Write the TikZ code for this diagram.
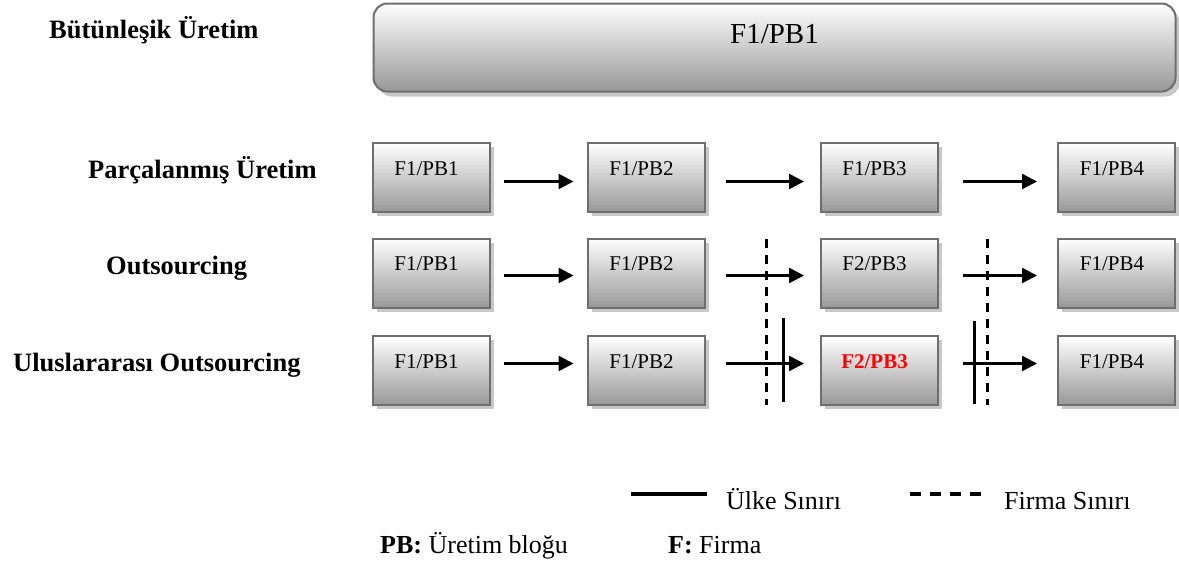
\documentclass[tikz,border=0pt]{standalone}
\usepackage{fontspec}
\setmainfont{Liberation Serif}
\usetikzlibrary{arrows.meta,shadows}
\definecolor{boxgray}{RGB}{152,152,152}
\definecolor{edgegray}{RGB}{110,110,110}
\definecolor{shadgray}{RGB}{200,200,200}
\newcommand\lblfnt{\fontsize{26.5}{30}\selectfont\bfseries}
\newcommand\boxfnt{\fontsize{21}{24}\selectfont}
\newcommand\topfnt{\fontsize{29}{32}\selectfont}
\newcommand\legfnt{\fontsize{26}{30}\selectfont}
\tikzset{
  blockbox/.style={draw=edgegray, line width=2pt, top color=white, bottom color=boxgray,
    minimum width=117pt, minimum height=69pt, inner sep=0pt,
    drop shadow={shadow xshift=4pt, shadow yshift=-4pt, fill=shadgray, opacity=1},
    label={[font=\boxfnt, anchor=base, xshift=-4.5pt, yshift=-33pt, inner sep=0pt]north:#1}},
  redbox/.style={blockbox={\textcolor{red}{\bfseries #1}}},
  rowlbl/.style={font=\lblfnt, anchor=base west, inner sep=0pt},
  legtxt/.style={font=\legfnt, anchor=base west, inner sep=0pt},
  flowarrow/.style={line width=2.5pt, -{Triangle[length=15pt,width=15pt]}},
  firmline/.style={line width=3pt, dash pattern=on 9pt off 7pt},
  countryline/.style={line width=3pt},
}
\begin{document}
\begin{tikzpicture}[x=1pt,y=-1pt]
\useasboundingbox (0,0) rectangle (1179,563);

% top integrated box
\node[draw=edgegray, line width=2pt, top color=white, bottom color=boxgray,
      rounded corners=14pt, minimum width=802pt, minimum height=88pt, inner sep=0pt,
      drop shadow={shadow xshift=4pt, shadow yshift=-5pt, fill=shadgray, opacity=1},
      label={[font=\topfnt, anchor=base, yshift=-41pt, inner sep=0pt]north:F1/PB1}]
      (top) at (774.5,47.5) {};

% row labels
\node[rowlbl] (l0) at (49,38) {Bütünleşik Üretim};
\node[rowlbl] (l1) at (88,178) {Parçalanmış Üretim};
\node[rowlbl] (l2) at (106,274) {Outsourcing};
\node[rowlbl] (l3) at (13,371) {Uluslararası Outsourcing};

% row 1
\node[blockbox=F1/PB1] (a1) at (431,177.5) {};
\node[blockbox=F1/PB2] (a2) at (646,177.5) {};
\node[blockbox=F1/PB3] (a3) at (879,177.5) {};
\node[blockbox=F1/PB4] (a4) at (1116.5,177.5) {};
% row 2
\node[blockbox=F1/PB1] (b1) at (431,273) {};
\node[blockbox=F1/PB2] (b2) at (646,273) {};
\node[blockbox=F2/PB3] (b3) at (879,273) {};
\node[blockbox=F1/PB4] (b4) at (1116.5,273) {};
% row 3
\node[blockbox=F1/PB1] (c1) at (431,370.5) {};
\node[blockbox=F1/PB2] (c2) at (646,370.5) {};
\node[redbox=F2/PB3] (c3) at (879,370.5) {};
\node[blockbox=F1/PB4] (c4) at (1116.5,370.5) {};

% arrows row 1
\draw[flowarrow, shorten <=13pt, shorten >=13pt] ([yshift=-4pt]a1.east) -- ([yshift=-4pt]a2.west);
\draw[flowarrow, shorten <=20.5pt, shorten >=15.5pt] ([yshift=-4pt]a2.east) -- ([yshift=-4pt]a3.west);
\draw[flowarrow, shorten <=24.5pt, shorten >=20pt] ([yshift=-4pt]a3.east) -- ([yshift=-4pt]a4.west);
% arrows row 2
\draw[flowarrow, shorten <=13pt, shorten >=13pt] ([yshift=-2.5pt]b1.east) -- ([yshift=-2.5pt]b2.west);
\draw[flowarrow, shorten <=20.5pt, shorten >=15.5pt] ([yshift=-2.5pt]b2.east) -- ([yshift=-2.5pt]b3.west);
\draw[flowarrow, shorten <=24.5pt, shorten >=20pt] ([yshift=-2.5pt]b3.east) -- ([yshift=-2.5pt]b4.west);
% arrows row 3
\draw[flowarrow, shorten <=13pt, shorten >=13pt] ([yshift=7pt]c1.east) -- ([yshift=7pt]c2.west);
\draw[flowarrow, shorten <=20.5pt, shorten >=15.5pt] ([yshift=7pt]c2.east) -- ([yshift=7pt]c3.west);
\draw[flowarrow, shorten <=24.5pt, shorten >=20pt] ([yshift=7pt]c3.east) -- ([yshift=7pt]c4.west);

% firm borders (dashed)
\draw[firmline] (766,239) -- (766,405);
\draw[firmline] (987,239) -- (987,405);
% country borders (solid)
\draw[countryline] (783,318) -- (783,402);
\draw[countryline] (974,321) -- (974,404);

% legend
\draw[countryline, line width=3.5pt] (631,494) -- (707,494);
\node[legtxt] (k1) at (726,509) {Ülke Sınırı};
\draw[line width=3.5pt, dash pattern=on 11pt off 9pt] (910,494) -- (985,494);
\node[legtxt] (k2) at (1004,509) {Firma Sınırı};
\node[legtxt] (k3) at (380,553) {\textbf{PB:} Üretim bloğu};
\node[legtxt] (k4) at (668,553) {\textbf{F:} Firma};
\end{tikzpicture}
\end{document}
